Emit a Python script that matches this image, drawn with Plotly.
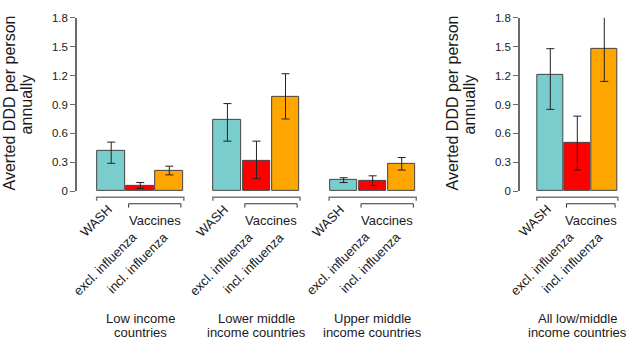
import plotly.graph_objects as go

# ---------------- data ----------------
groups = ["Low income<br>countries", "Lower middle<br>income countries", "Upper middle<br>income countries"]
all_group = "All low/middle<br>income countries"
series_names = ["WASH", "excl. influenza", "incl. influenza"]
series_colors = ["#79CDCD", "#FF0000", "#FFA500"]

# values for [Low, Lower middle, Upper middle, All low/middle]
wash_val = [0.42, 0.74, 0.12, 1.21]
wash_lo = [0.29, 0.52, 0.09, 0.85]
wash_hi = [0.51, 0.91, 0.14, 1.48]

excl_val = [0.06, 0.32, 0.11, 0.50]
excl_lo = [0.03, 0.13, 0.06, 0.22]
excl_hi = [0.09, 0.52, 0.16, 0.78]

incl_val = [0.21, 0.98, 0.28, 1.48]
incl_lo = [0.17, 0.75, 0.22, 1.14]
incl_hi = [0.26, 1.22, 0.35, 1.82]

tick_vals = [0, 0.3, 0.6, 0.9, 1.2, 1.5, 1.8]
tick_text = ["0", "0.3", "0.6", "0.9", "1.2", "1.5", "1.8"]
y_title = ["Averted DDD per person", "annually"]

# ---------------- layout helpers ----------------
W, H = 629, 340
FONT = "Liberation Sans, Arial, Helvetica, sans-serif"
TXT = "#1a1a1a"
AXC = "#6a6a6a"


def px(x):
    return x / W


def py(y):
    return (H - y) / H


vals = [wash_val, excl_val, incl_val]
los = [wash_lo, excl_lo, incl_lo]
his = [wash_hi, excl_hi, incl_hi]

fig = go.Figure()
bar_w = 0.95

for s, name in enumerate(series_names):
    # left panel: three income groups
    xs, ys, ep, em = [], [], [], []
    for g in range(len(groups)):
        xs.append(g * 4 + s)
        ys.append(vals[s][g])
        ep.append(his[s][g] - vals[s][g])
        em.append(vals[s][g] - los[s][g])
    fig.add_trace(go.Bar(
        x=xs, y=ys, width=bar_w, name=name, showlegend=False,
        marker=dict(color=series_colors[s], line=dict(color="#444444", width=1)),
        error_y=dict(type="data", symmetric=False, array=ep, arrayminus=em,
                     color="#222222", thickness=1, width=4),
        cliponaxis=False, xaxis="x", yaxis="y"))
    # right panel: all low/middle
    g = len(groups)
    fig.add_trace(go.Bar(
        x=[s], y=[vals[s][g]], width=bar_w, name=name, showlegend=False,
        marker=dict(color=series_colors[s], line=dict(color="#444444", width=1)),
        error_y=dict(type="data", symmetric=False, array=[his[s][g] - vals[s][g]],
                     arrayminus=[vals[s][g] - los[s][g]],
                     color="#222222", thickness=1, width=4),
        cliponaxis=False, xaxis="x2", yaxis="y2"))

ydom = [py(192), py(12.3)]
yax = dict(range=[0, 1.8], domain=ydom, tickvals=tick_vals, ticktext=tick_text,
           showline=True, linecolor=AXC, linewidth=1.5, ticks="outside", ticklen=5,
           tickcolor=AXC, tickwidth=1, showgrid=False, zeroline=False,
           tickfont=dict(family=FONT, size=11.5, color=TXT), anchor="free")

fig.update_layout(
    width=W, height=H, margin=dict(l=0, r=0, t=0, b=0),
    paper_bgcolor="white", plot_bgcolor="white", bargap=0,
    font=dict(family=FONT, color=TXT),
    xaxis=dict(domain=[px(82.15), px(445.3)], range=[-1, 11.5], visible=False, anchor="y"),
    xaxis2=dict(domain=[px(523.3), px(620.5)], range=[-1, 2.6], visible=False, anchor="y2"),
    yaxis=dict(yax, position=px(76)),
    yaxis2=dict(yax, position=px(519)),
)

shapes = []
annots = []


def group_decor(xref, base, label):
    # outer bracket spanning the group
    shapes.append(dict(type="path", xref=xref, yref="paper",
                       path=f"M {base - 0.5},{py(202)} L {base - 0.5},{py(198.3)} L {base + 2.5},{py(198.3)} L {base + 2.5},{py(202)}",
                       line=dict(color="#777777", width=1.5)))
    # inner bracket for vaccines
    shapes.append(dict(type="path", xref=xref, yref="paper",
                       path=f"M {base + 0.6},{py(209)} L {base + 0.6},{py(205)} L {base + 2.4},{py(205)} L {base + 2.4},{py(209)}",
                       line=dict(color="#333333", width=1)))
    annots.append(dict(x=base + 1.5, y=py(222), xref=xref, yref="paper", text="Vaccines",
                       showarrow=False, xanchor="center", yanchor="middle",
                       font=dict(size=13, family=FONT, color=TXT)))
    annots.append(dict(x=base + 0.25, y=py(200), xref=xref, yref="paper", text=series_names[0],
                       showarrow=False, xanchor="right", yanchor="top", textangle=-45,
                       font=dict(size=13, family=FONT, color=TXT)))
    for s in (1, 2):
        annots.append(dict(x=base + s + 0.1 + 0.08 * (s - 1), y=py(228.5), xref=xref, yref="paper",
                           text=series_names[s],
                           showarrow=False, xanchor="right", yanchor="top", textangle=-45,
                           font=dict(size=13, family=FONT, color=TXT)))
    for k, line in enumerate(label.split("<br>")):
        annots.append(dict(x=base + 1, y=py(323.5 + 14.5 * k), xref=xref, yref="paper", text=line,
                           showarrow=False, xanchor="center", yanchor="middle",
                           font=dict(size=13, family=FONT, color=TXT)))


for g, label in enumerate(groups):
    group_decor("x", g * 4, label)
group_decor("x2", 0, all_group)

for cx in (9, 452):
    annots.append(dict(x=px(cx), y=py(101), xref="paper", yref="paper", text=y_title[0],
                       showarrow=False, textangle=-90, xanchor="center", yanchor="middle",
                       font=dict(size=16, family=FONT, color=TXT)))
    annots.append(dict(x=px(cx + 17), y=py(102), xref="paper", yref="paper", text=y_title[1],
                       showarrow=False, textangle=-90, xanchor="center", yanchor="middle",
                       font=dict(size=16, family=FONT, color=TXT)))

fig.update_layout(shapes=shapes, annotations=annots)
fig.write_html(
    "out.html",
    config={"displayModeBar": False},
    post_script="document.body.style.margin='0';document.body.style.overflow='hidden';",
)
